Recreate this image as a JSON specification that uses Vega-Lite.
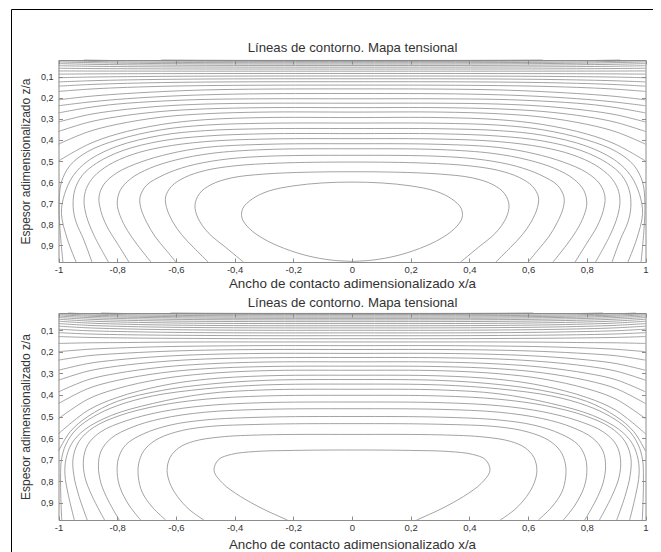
{
"$schema":"https://vega.github.io/schema/vega-lite/v6.json",
"autosize":"none",
"width":642,"height":547,
"padding":{"left":11,"top":9,"right":0,"bottom":0},
"background":"white",
"config":{
"font":"Liberation Sans",
"view":{"stroke":"#000000","strokeWidth":1},
"axis":{"grid":false,"domain":true,"domainColor":"#8c8c8c","tickColor":"#8c8c8c","tickSize":-4,"labelFont":"Liberation Sans","labelFontSize":9.5,"labelColor":"#333333","titleFont":"Liberation Sans","titleFontSize":12,"titleFontWeight":"normal","titleColor":"#333333","labelFlush":false,"labelOverlap":false}
},
"datasets":{
"A":[
{"c":1,"o":1,"x":0,"z":0.976},{"c":1,"o":2,"x":-0.07,"z":0.97},{"c":1,"o":3,"x":-0.15,"z":0.95},{"c":1,"o":4,"x":-0.23,"z":0.915},{"c":1,"o":5,"x":-0.3,"z":0.87},{"c":1,"o":6,"x":-0.35,"z":0.82},{"c":1,"o":7,"x":-0.375,"z":0.77},{"c":1,"o":8,"x":-0.372,"z":0.725},{"c":1,"o":9,"x":-0.34,"z":0.68},{"c":1,"o":10,"x":-0.285,"z":0.643},{"c":1,"o":11,"x":-0.2,"z":0.618},{"c":1,"o":12,"x":-0.1,"z":0.604},{"c":1,"o":13,"x":0,"z":0.6},{"c":1,"o":14,"x":0.1,"z":0.604},{"c":1,"o":15,"x":0.2,"z":0.618},{"c":1,"o":16,"x":0.285,"z":0.643},{"c":1,"o":17,"x":0.34,"z":0.68},{"c":1,"o":18,"x":0.372,"z":0.725},{"c":1,"o":19,"x":0.375,"z":0.77},{"c":1,"o":20,"x":0.35,"z":0.82},{"c":1,"o":21,"x":0.3,"z":0.87},{"c":1,"o":22,"x":0.23,"z":0.915},{"c":1,"o":23,"x":0.15,"z":0.95},{"c":1,"o":24,"x":0.07,"z":0.97},{"c":1,"o":25,"x":0,"z":0.976},
{"c":2,"o":1,"x":-0.37,"z":0.979},{"c":2,"o":2,"x":-0.43,"z":0.91},{"c":2,"o":3,"x":-0.49,"z":0.84},{"c":2,"o":4,"x":-0.525,"z":0.77},{"c":2,"o":5,"x":-0.535,"z":0.71},{"c":2,"o":6,"x":-0.52,"z":0.655},{"c":2,"o":7,"x":-0.48,"z":0.612},{"c":2,"o":8,"x":-0.41,"z":0.58},{"c":2,"o":9,"x":-0.3,"z":0.562},{"c":2,"o":10,"x":-0.15,"z":0.553},{"c":2,"o":11,"x":0,"z":0.551},{"c":2,"o":12,"x":0.15,"z":0.553},{"c":2,"o":13,"x":0.3,"z":0.562},{"c":2,"o":14,"x":0.41,"z":0.58},{"c":2,"o":15,"x":0.48,"z":0.612},{"c":2,"o":16,"x":0.52,"z":0.655},{"c":2,"o":17,"x":0.535,"z":0.71},{"c":2,"o":18,"x":0.525,"z":0.77},{"c":2,"o":19,"x":0.49,"z":0.84},{"c":2,"o":20,"x":0.43,"z":0.91},{"c":2,"o":21,"x":0.37,"z":0.979},
{"c":3,"o":1,"x":-0.49,"z":0.979},{"c":3,"o":2,"x":-0.54,"z":0.91},{"c":3,"o":3,"x":-0.58,"z":0.85},{"c":3,"o":4,"x":-0.61,"z":0.79},{"c":3,"o":5,"x":-0.632,"z":0.72},{"c":3,"o":6,"x":-0.635,"z":0.67},{"c":3,"o":7,"x":-0.615,"z":0.62},{"c":3,"o":8,"x":-0.57,"z":0.578},{"c":3,"o":9,"x":-0.5,"z":0.545},{"c":3,"o":10,"x":-0.4,"z":0.523},{"c":3,"o":11,"x":-0.25,"z":0.51},{"c":3,"o":12,"x":0,"z":0.505},{"c":3,"o":13,"x":0.25,"z":0.51},{"c":3,"o":14,"x":0.4,"z":0.523},{"c":3,"o":15,"x":0.5,"z":0.545},{"c":3,"o":16,"x":0.57,"z":0.578},{"c":3,"o":17,"x":0.615,"z":0.62},{"c":3,"o":18,"x":0.635,"z":0.67},{"c":3,"o":19,"x":0.632,"z":0.72},{"c":3,"o":20,"x":0.61,"z":0.79},{"c":3,"o":21,"x":0.58,"z":0.85},{"c":3,"o":22,"x":0.54,"z":0.91},{"c":3,"o":23,"x":0.49,"z":0.979},
{"c":4,"o":1,"x":-0.6,"z":0.979},{"c":4,"o":2,"x":-0.635,"z":0.92},{"c":4,"o":3,"x":-0.67,"z":0.86},{"c":4,"o":4,"x":-0.7,"z":0.79},{"c":4,"o":5,"x":-0.72,"z":0.72},{"c":4,"o":6,"x":-0.722,"z":0.67},{"c":4,"o":7,"x":-0.7,"z":0.615},{"c":4,"o":8,"x":-0.64,"z":0.565},{"c":4,"o":9,"x":-0.56,"z":0.525},{"c":4,"o":10,"x":-0.45,"z":0.495},{"c":4,"o":11,"x":-0.3,"z":0.478},{"c":4,"o":12,"x":0,"z":0.473},{"c":4,"o":13,"x":0.3,"z":0.478},{"c":4,"o":14,"x":0.45,"z":0.495},{"c":4,"o":15,"x":0.56,"z":0.525},{"c":4,"o":16,"x":0.64,"z":0.565},{"c":4,"o":17,"x":0.7,"z":0.615},{"c":4,"o":18,"x":0.722,"z":0.67},{"c":4,"o":19,"x":0.72,"z":0.72},{"c":4,"o":20,"x":0.7,"z":0.79},{"c":4,"o":21,"x":0.67,"z":0.86},{"c":4,"o":22,"x":0.635,"z":0.92},{"c":4,"o":23,"x":0.6,"z":0.979},
{"c":5,"o":1,"x":-0.685,"z":0.979},{"c":5,"o":2,"x":-0.73,"z":0.9},{"c":5,"o":3,"x":-0.765,"z":0.83},{"c":5,"o":4,"x":-0.79,"z":0.76},{"c":5,"o":5,"x":-0.8,"z":0.7},{"c":5,"o":6,"x":-0.79,"z":0.64},{"c":5,"o":7,"x":-0.755,"z":0.585},{"c":5,"o":8,"x":-0.69,"z":0.535},{"c":5,"o":9,"x":-0.6,"z":0.495},{"c":5,"o":10,"x":-0.48,"z":0.464},{"c":5,"o":11,"x":-0.3,"z":0.446},{"c":5,"o":12,"x":0,"z":0.442},{"c":5,"o":13,"x":0.3,"z":0.446},{"c":5,"o":14,"x":0.48,"z":0.464},{"c":5,"o":15,"x":0.6,"z":0.495},{"c":5,"o":16,"x":0.69,"z":0.535},{"c":5,"o":17,"x":0.755,"z":0.585},{"c":5,"o":18,"x":0.79,"z":0.64},{"c":5,"o":19,"x":0.8,"z":0.7},{"c":5,"o":20,"x":0.79,"z":0.76},{"c":5,"o":21,"x":0.765,"z":0.83},{"c":5,"o":22,"x":0.73,"z":0.9},{"c":5,"o":23,"x":0.685,"z":0.979},
{"c":6,"o":1,"x":-0.76,"z":0.979},{"c":6,"o":2,"x":-0.8,"z":0.89},{"c":6,"o":3,"x":-0.835,"z":0.81},{"c":6,"o":4,"x":-0.855,"z":0.74},{"c":6,"o":5,"x":-0.862,"z":0.67},{"c":6,"o":6,"x":-0.845,"z":0.61},{"c":6,"o":7,"x":-0.8,"z":0.555},{"c":6,"o":8,"x":-0.72,"z":0.505},{"c":6,"o":9,"x":-0.62,"z":0.465},{"c":6,"o":10,"x":-0.5,"z":0.436},{"c":6,"o":11,"x":-0.3,"z":0.421},{"c":6,"o":12,"x":0,"z":0.418},{"c":6,"o":13,"x":0.3,"z":0.421},{"c":6,"o":14,"x":0.5,"z":0.436},{"c":6,"o":15,"x":0.62,"z":0.465},{"c":6,"o":16,"x":0.72,"z":0.505},{"c":6,"o":17,"x":0.8,"z":0.555},{"c":6,"o":18,"x":0.845,"z":0.61},{"c":6,"o":19,"x":0.862,"z":0.67},{"c":6,"o":20,"x":0.855,"z":0.74},{"c":6,"o":21,"x":0.835,"z":0.81},{"c":6,"o":22,"x":0.8,"z":0.89},{"c":6,"o":23,"x":0.76,"z":0.979},
{"c":7,"o":1,"x":-0.83,"z":0.979},{"c":7,"o":2,"x":-0.88,"z":0.85},{"c":7,"o":3,"x":-0.905,"z":0.76},{"c":7,"o":4,"x":-0.913,"z":0.69},{"c":7,"o":5,"x":-0.905,"z":0.63},{"c":7,"o":6,"x":-0.88,"z":0.575},{"c":7,"o":7,"x":-0.83,"z":0.52},{"c":7,"o":8,"x":-0.75,"z":0.47},{"c":7,"o":9,"x":-0.65,"z":0.435},{"c":7,"o":10,"x":-0.5,"z":0.408},{"c":7,"o":11,"x":-0.3,"z":0.396},{"c":7,"o":12,"x":0,"z":0.394},{"c":7,"o":13,"x":0.3,"z":0.396},{"c":7,"o":14,"x":0.5,"z":0.408},{"c":7,"o":15,"x":0.65,"z":0.435},{"c":7,"o":16,"x":0.75,"z":0.47},{"c":7,"o":17,"x":0.83,"z":0.52},{"c":7,"o":18,"x":0.88,"z":0.575},{"c":7,"o":19,"x":0.905,"z":0.63},{"c":7,"o":20,"x":0.913,"z":0.69},{"c":7,"o":21,"x":0.905,"z":0.76},{"c":7,"o":22,"x":0.88,"z":0.85},{"c":7,"o":23,"x":0.83,"z":0.979},
{"c":8,"o":1,"x":-0.886,"z":0.979},{"c":8,"o":2,"x":-0.915,"z":0.87},{"c":8,"o":3,"x":-0.94,"z":0.79},{"c":8,"o":4,"x":-0.95,"z":0.72},{"c":8,"o":5,"x":-0.945,"z":0.64},{"c":8,"o":6,"x":-0.92,"z":0.57},{"c":8,"o":7,"x":-0.87,"z":0.51},{"c":8,"o":8,"x":-0.78,"z":0.45},{"c":8,"o":9,"x":-0.65,"z":0.405},{"c":8,"o":10,"x":-0.5,"z":0.382},{"c":8,"o":11,"x":-0.3,"z":0.371},{"c":8,"o":12,"x":0,"z":0.37},{"c":8,"o":13,"x":0.3,"z":0.371},{"c":8,"o":14,"x":0.5,"z":0.382},{"c":8,"o":15,"x":0.65,"z":0.405},{"c":8,"o":16,"x":0.78,"z":0.45},{"c":8,"o":17,"x":0.87,"z":0.51},{"c":8,"o":18,"x":0.92,"z":0.57},{"c":8,"o":19,"x":0.945,"z":0.64},{"c":8,"o":20,"x":0.95,"z":0.72},{"c":8,"o":21,"x":0.94,"z":0.79},{"c":8,"o":22,"x":0.915,"z":0.87},{"c":8,"o":23,"x":0.886,"z":0.979},
{"c":9,"o":1,"x":-0.94,"z":0.979},{"c":9,"o":2,"x":-0.97,"z":0.87},{"c":9,"o":3,"x":-0.99,"z":0.75},{"c":9,"o":4,"x":-0.98,"z":0.66},{"c":9,"o":5,"x":-0.95,"z":0.57},{"c":9,"o":6,"x":-0.9,"z":0.5},{"c":9,"o":7,"x":-0.8,"z":0.43},{"c":9,"o":8,"x":-0.65,"z":0.378},{"c":9,"o":9,"x":-0.5,"z":0.356},{"c":9,"o":10,"x":-0.3,"z":0.347},{"c":9,"o":11,"x":0,"z":0.346},{"c":9,"o":12,"x":0.3,"z":0.347},{"c":9,"o":13,"x":0.5,"z":0.356},{"c":9,"o":14,"x":0.65,"z":0.378},{"c":9,"o":15,"x":0.8,"z":0.43},{"c":9,"o":16,"x":0.9,"z":0.5},{"c":9,"o":17,"x":0.95,"z":0.57},{"c":9,"o":18,"x":0.98,"z":0.66},{"c":9,"o":19,"x":0.99,"z":0.75},{"c":9,"o":20,"x":0.97,"z":0.87},{"c":9,"o":21,"x":0.94,"z":0.979},
{"c":10,"o":1,"x":-0.985,"z":0.979},{"c":10,"o":2,"x":-0.995,"z":0.82},{"c":10,"o":3,"x":-0.998,"z":0.7},{"c":10,"o":4,"x":-0.99,"z":0.6},{"c":10,"o":5,"x":-0.96,"z":0.52},{"c":10,"o":6,"x":-0.9,"z":0.455},{"c":10,"o":7,"x":-0.8,"z":0.4},{"c":10,"o":8,"x":-0.65,"z":0.352},{"c":10,"o":9,"x":-0.5,"z":0.33},{"c":10,"o":10,"x":-0.3,"z":0.321},{"c":10,"o":11,"x":0,"z":0.32},{"c":10,"o":12,"x":0.3,"z":0.321},{"c":10,"o":13,"x":0.5,"z":0.33},{"c":10,"o":14,"x":0.65,"z":0.352},{"c":10,"o":15,"x":0.8,"z":0.4},{"c":10,"o":16,"x":0.9,"z":0.455},{"c":10,"o":17,"x":0.96,"z":0.52},{"c":10,"o":18,"x":0.99,"z":0.6},{"c":10,"o":19,"x":0.998,"z":0.7},{"c":10,"o":20,"x":0.995,"z":0.82},{"c":10,"o":21,"x":0.985,"z":0.979},
{"c":11,"o":1,"x":-1,"z":0.5},{"c":11,"o":2,"x":-0.9,"z":0.422},{"c":11,"o":3,"x":-0.8,"z":0.372},{"c":11,"o":4,"x":-0.65,"z":0.327},{"c":11,"o":5,"x":-0.5,"z":0.304},{"c":11,"o":6,"x":-0.3,"z":0.294},{"c":11,"o":7,"x":0,"z":0.294},{"c":11,"o":8,"x":0.3,"z":0.294},{"c":11,"o":9,"x":0.5,"z":0.304},{"c":11,"o":10,"x":0.65,"z":0.327},{"c":11,"o":11,"x":0.8,"z":0.372},{"c":11,"o":12,"x":0.9,"z":0.422},{"c":11,"o":13,"x":1,"z":0.5},
{"c":12,"o":1,"x":-1,"z":0.42},{"c":12,"o":2,"x":-0.9,"z":0.362},{"c":12,"o":3,"x":-0.8,"z":0.326},{"c":12,"o":4,"x":-0.65,"z":0.292},{"c":12,"o":5,"x":-0.5,"z":0.276},{"c":12,"o":6,"x":-0.3,"z":0.268},{"c":12,"o":7,"x":0,"z":0.268},{"c":12,"o":8,"x":0.3,"z":0.268},{"c":12,"o":9,"x":0.5,"z":0.276},{"c":12,"o":10,"x":0.65,"z":0.292},{"c":12,"o":11,"x":0.8,"z":0.326},{"c":12,"o":12,"x":0.9,"z":0.362},{"c":12,"o":13,"x":1,"z":0.42},
{"c":13,"o":1,"x":-1,"z":0.36},{"c":13,"o":2,"x":-0.9,"z":0.317},{"c":13,"o":3,"x":-0.8,"z":0.29},{"c":13,"o":4,"x":-0.65,"z":0.265},{"c":13,"o":5,"x":-0.5,"z":0.253},{"c":13,"o":6,"x":-0.3,"z":0.247},{"c":13,"o":7,"x":0,"z":0.247},{"c":13,"o":8,"x":0.3,"z":0.247},{"c":13,"o":9,"x":0.5,"z":0.253},{"c":13,"o":10,"x":0.65,"z":0.265},{"c":13,"o":11,"x":0.8,"z":0.29},{"c":13,"o":12,"x":0.9,"z":0.317},{"c":13,"o":13,"x":1,"z":0.36},
{"c":14,"o":1,"x":-1,"z":0.315},{"c":14,"o":2,"x":-0.9,"z":0.281},{"c":14,"o":3,"x":-0.8,"z":0.26},{"c":14,"o":4,"x":-0.65,"z":0.24},{"c":14,"o":5,"x":-0.5,"z":0.23},{"c":14,"o":6,"x":-0.3,"z":0.226},{"c":14,"o":7,"x":0,"z":0.226},{"c":14,"o":8,"x":0.3,"z":0.226},{"c":14,"o":9,"x":0.5,"z":0.23},{"c":14,"o":10,"x":0.65,"z":0.24},{"c":14,"o":11,"x":0.8,"z":0.26},{"c":14,"o":12,"x":0.9,"z":0.281},{"c":14,"o":13,"x":1,"z":0.315},
{"c":15,"o":1,"x":-1,"z":0.272},{"c":15,"o":2,"x":-0.9,"z":0.247},{"c":15,"o":3,"x":-0.8,"z":0.23},{"c":15,"o":4,"x":-0.65,"z":0.216},{"c":15,"o":5,"x":-0.5,"z":0.208},{"c":15,"o":6,"x":-0.3,"z":0.205},{"c":15,"o":7,"x":0,"z":0.205},{"c":15,"o":8,"x":0.3,"z":0.205},{"c":15,"o":9,"x":0.5,"z":0.208},{"c":15,"o":10,"x":0.65,"z":0.216},{"c":15,"o":11,"x":0.8,"z":0.23},{"c":15,"o":12,"x":0.9,"z":0.247},{"c":15,"o":13,"x":1,"z":0.272},
{"c":16,"o":1,"x":-1,"z":0.238},{"c":16,"o":2,"x":-0.9,"z":0.221},{"c":16,"o":3,"x":-0.8,"z":0.208},{"c":16,"o":4,"x":-0.65,"z":0.1945},{"c":16,"o":5,"x":-0.5,"z":0.186},{"c":16,"o":6,"x":-0.3,"z":0.181},{"c":16,"o":7,"x":0,"z":0.18},{"c":16,"o":8,"x":0.3,"z":0.181},{"c":16,"o":9,"x":0.5,"z":0.186},{"c":16,"o":10,"x":0.65,"z":0.1945},{"c":16,"o":11,"x":0.8,"z":0.208},{"c":16,"o":12,"x":0.9,"z":0.221},{"c":16,"o":13,"x":1,"z":0.238},
{"c":17,"o":1,"x":-1,"z":0.21},{"c":17,"o":2,"x":-0.9,"z":0.194},{"c":17,"o":3,"x":-0.8,"z":0.183},{"c":17,"o":4,"x":-0.65,"z":0.171},{"c":17,"o":5,"x":-0.5,"z":0.163},{"c":17,"o":6,"x":-0.3,"z":0.159},{"c":17,"o":7,"x":0,"z":0.158},{"c":17,"o":8,"x":0.3,"z":0.159},{"c":17,"o":9,"x":0.5,"z":0.163},{"c":17,"o":10,"x":0.65,"z":0.171},{"c":17,"o":11,"x":0.8,"z":0.183},{"c":17,"o":12,"x":0.9,"z":0.194},{"c":17,"o":13,"x":1,"z":0.21},
{"c":18,"o":1,"x":-1,"z":0.17},{"c":18,"o":2,"x":-0.9,"z":0.1595},{"c":18,"o":3,"x":-0.8,"z":0.1526},{"c":18,"o":4,"x":-0.65,"z":0.146},{"c":18,"o":5,"x":-0.5,"z":0.1424},{"c":18,"o":6,"x":-0.3,"z":0.1405},{"c":18,"o":7,"x":0,"z":0.14},{"c":18,"o":8,"x":0.3,"z":0.1405},{"c":18,"o":9,"x":0.5,"z":0.1424},{"c":18,"o":10,"x":0.65,"z":0.146},{"c":18,"o":11,"x":0.8,"z":0.1526},{"c":18,"o":12,"x":0.9,"z":0.1595},{"c":18,"o":13,"x":1,"z":0.17},
{"c":19,"o":1,"x":-1,"z":0.145},{"c":19,"o":2,"x":-0.9,"z":0.1377},{"c":19,"o":3,"x":-0.8,"z":0.1328},{"c":19,"o":4,"x":-0.65,"z":0.1282},{"c":19,"o":5,"x":-0.5,"z":0.1257},{"c":19,"o":6,"x":-0.3,"z":0.1243},{"c":19,"o":7,"x":0,"z":0.124},{"c":19,"o":8,"x":0.3,"z":0.1243},{"c":19,"o":9,"x":0.5,"z":0.1257},{"c":19,"o":10,"x":0.65,"z":0.1282},{"c":19,"o":11,"x":0.8,"z":0.1328},{"c":19,"o":12,"x":0.9,"z":0.1377},{"c":19,"o":13,"x":1,"z":0.145},
{"c":20,"o":1,"x":-1,"z":0.125},{"c":20,"o":2,"x":-0.9,"z":0.1198},{"c":20,"o":3,"x":-0.8,"z":0.1163},{"c":20,"o":4,"x":-0.65,"z":0.113},{"c":20,"o":5,"x":-0.5,"z":0.1112},{"c":20,"o":6,"x":-0.3,"z":0.1102},{"c":20,"o":7,"x":0,"z":0.11},{"c":20,"o":8,"x":0.3,"z":0.1102},{"c":20,"o":9,"x":0.5,"z":0.1112},{"c":20,"o":10,"x":0.65,"z":0.113},{"c":20,"o":11,"x":0.8,"z":0.1163},{"c":20,"o":12,"x":0.9,"z":0.1198},{"c":20,"o":13,"x":1,"z":0.125},
{"c":21,"o":1,"x":-1,"z":0.105},{"c":21,"o":2,"x":-0.9,"z":0.1022},{"c":21,"o":3,"x":-0.8,"z":0.1004},{"c":21,"o":4,"x":-0.65,"z":0.0986},{"c":21,"o":5,"x":-0.5,"z":0.0976},{"c":21,"o":6,"x":-0.3,"z":0.0971},{"c":21,"o":7,"x":0,"z":0.097},{"c":21,"o":8,"x":0.3,"z":0.0971},{"c":21,"o":9,"x":0.5,"z":0.0976},{"c":21,"o":10,"x":0.65,"z":0.0986},{"c":21,"o":11,"x":0.8,"z":0.1004},{"c":21,"o":12,"x":0.9,"z":0.1022},{"c":21,"o":13,"x":1,"z":0.105},
{"c":22,"o":1,"x":-1,"z":0.088},{"c":22,"o":2,"x":-0.9,"z":0.087},{"c":22,"o":3,"x":-0.8,"z":0.0863},{"c":22,"o":4,"x":-0.65,"z":0.0856},{"c":22,"o":5,"x":-0.5,"z":0.0852},{"c":22,"o":6,"x":-0.3,"z":0.085},{"c":22,"o":7,"x":0,"z":0.085},{"c":22,"o":8,"x":0.3,"z":0.085},{"c":22,"o":9,"x":0.5,"z":0.0852},{"c":22,"o":10,"x":0.65,"z":0.0856},{"c":22,"o":11,"x":0.8,"z":0.0863},{"c":22,"o":12,"x":0.9,"z":0.087},{"c":22,"o":13,"x":1,"z":0.088},
{"c":23,"o":1,"x":-1,"z":0.073},{"c":23,"o":2,"x":-0.9,"z":0.0734},{"c":23,"o":3,"x":-0.8,"z":0.0736},{"c":23,"o":4,"x":-0.65,"z":0.0738},{"c":23,"o":5,"x":-0.5,"z":0.0739},{"c":23,"o":6,"x":-0.3,"z":0.074},{"c":23,"o":7,"x":0,"z":0.074},{"c":23,"o":8,"x":0.3,"z":0.074},{"c":23,"o":9,"x":0.5,"z":0.0739},{"c":23,"o":10,"x":0.65,"z":0.0738},{"c":23,"o":11,"x":0.8,"z":0.0736},{"c":23,"o":12,"x":0.9,"z":0.0734},{"c":23,"o":13,"x":1,"z":0.073},
{"c":24,"o":1,"x":-1,"z":0.06},{"c":24,"o":2,"x":-0.9,"z":0.0614},{"c":24,"o":3,"x":-0.8,"z":0.0623},{"c":24,"o":4,"x":-0.65,"z":0.0632},{"c":24,"o":5,"x":-0.5,"z":0.0637},{"c":24,"o":6,"x":-0.3,"z":0.0639},{"c":24,"o":7,"x":0,"z":0.064},{"c":24,"o":8,"x":0.3,"z":0.0639},{"c":24,"o":9,"x":0.5,"z":0.0637},{"c":24,"o":10,"x":0.65,"z":0.0632},{"c":24,"o":11,"x":0.8,"z":0.0623},{"c":24,"o":12,"x":0.9,"z":0.0614},{"c":24,"o":13,"x":1,"z":0.06},
{"c":25,"o":1,"x":-1,"z":0.048},{"c":25,"o":2,"x":-0.9,"z":0.0505},{"c":25,"o":3,"x":-0.8,"z":0.0521},{"c":25,"o":4,"x":-0.65,"z":0.0536},{"c":25,"o":5,"x":-0.5,"z":0.0544},{"c":25,"o":6,"x":-0.3,"z":0.0549},{"c":25,"o":7,"x":0,"z":0.055},{"c":25,"o":8,"x":0.3,"z":0.0549},{"c":25,"o":9,"x":0.5,"z":0.0544},{"c":25,"o":10,"x":0.65,"z":0.0536},{"c":25,"o":11,"x":0.8,"z":0.0521},{"c":25,"o":12,"x":0.9,"z":0.0505},{"c":25,"o":13,"x":1,"z":0.048},
{"c":26,"o":1,"x":-1,"z":0.038},{"c":26,"o":2,"x":-0.9,"z":0.0412},{"c":26,"o":3,"x":-0.8,"z":0.0432},{"c":26,"o":4,"x":-0.65,"z":0.0452},{"c":26,"o":5,"x":-0.5,"z":0.0463},{"c":26,"o":6,"x":-0.3,"z":0.0469},{"c":26,"o":7,"x":0,"z":0.047},{"c":26,"o":8,"x":0.3,"z":0.0469},{"c":26,"o":9,"x":0.5,"z":0.0463},{"c":26,"o":10,"x":0.65,"z":0.0452},{"c":26,"o":11,"x":0.8,"z":0.0432},{"c":26,"o":12,"x":0.9,"z":0.0412},{"c":26,"o":13,"x":1,"z":0.038},
{"c":27,"o":1,"x":-1,"z":0.03},{"c":27,"o":2,"x":-0.9,"z":0.0335},{"c":27,"o":3,"x":-0.8,"z":0.0358},{"c":27,"o":4,"x":-0.65,"z":0.038},{"c":27,"o":5,"x":-0.5,"z":0.0392},{"c":27,"o":6,"x":-0.3,"z":0.0399},{"c":27,"o":7,"x":0,"z":0.04},{"c":27,"o":8,"x":0.3,"z":0.0399},{"c":27,"o":9,"x":0.5,"z":0.0392},{"c":27,"o":10,"x":0.65,"z":0.038},{"c":27,"o":11,"x":0.8,"z":0.0358},{"c":27,"o":12,"x":0.9,"z":0.0335},{"c":27,"o":13,"x":1,"z":0.03},
{"c":28,"o":1,"x":-1,"z":0.024},{"c":28,"o":2,"x":-0.9,"z":0.0275},{"c":28,"o":3,"x":-0.8,"z":0.0298},{"c":28,"o":4,"x":-0.65,"z":0.032},{"c":28,"o":5,"x":-0.5,"z":0.0332},{"c":28,"o":6,"x":-0.3,"z":0.0339},{"c":28,"o":7,"x":0,"z":0.034},{"c":28,"o":8,"x":0.3,"z":0.0339},{"c":28,"o":9,"x":0.5,"z":0.0332},{"c":28,"o":10,"x":0.65,"z":0.032},{"c":28,"o":11,"x":0.8,"z":0.0298},{"c":28,"o":12,"x":0.9,"z":0.0275},{"c":28,"o":13,"x":1,"z":0.024},
{"c":29,"o":1,"x":-0.914,"z":0.021},{"c":29,"o":3,"x":-0.8,"z":0.0238},{"c":29,"o":4,"x":-0.65,"z":0.026},{"c":29,"o":5,"x":-0.5,"z":0.0272},{"c":29,"o":6,"x":-0.3,"z":0.0279},{"c":29,"o":7,"x":0,"z":0.028},{"c":29,"o":8,"x":0.3,"z":0.0279},{"c":29,"o":9,"x":0.5,"z":0.0272},{"c":29,"o":10,"x":0.65,"z":0.026},{"c":29,"o":11,"x":0.8,"z":0.0238},{"c":29,"o":13,"x":0.914,"z":0.021},
{"c":30,"o":4,"x":-0.65,"z":0.021},{"c":30,"o":5,"x":-0.5,"z":0.0222},{"c":30,"o":6,"x":-0.3,"z":0.0229},{"c":30,"o":7,"x":0,"z":0.023},{"c":30,"o":8,"x":0.3,"z":0.0229},{"c":30,"o":9,"x":0.5,"z":0.0222},{"c":30,"o":10,"x":0.65,"z":0.021}
],
"B":[
{"c":1,"o":1,"x":-0.22,"z":0.979},{"c":1,"o":2,"x":-0.3,"z":0.93},{"c":1,"o":3,"x":-0.38,"z":0.87},{"c":1,"o":4,"x":-0.44,"z":0.81},{"c":1,"o":5,"x":-0.47,"z":0.75},{"c":1,"o":6,"x":-0.455,"z":0.7},{"c":1,"o":7,"x":-0.41,"z":0.675},{"c":1,"o":8,"x":-0.33,"z":0.662},{"c":1,"o":9,"x":-0.2,"z":0.657},{"c":1,"o":10,"x":0,"z":0.655},{"c":1,"o":11,"x":0.2,"z":0.657},{"c":1,"o":12,"x":0.33,"z":0.662},{"c":1,"o":13,"x":0.41,"z":0.675},{"c":1,"o":14,"x":0.455,"z":0.7},{"c":1,"o":15,"x":0.47,"z":0.75},{"c":1,"o":16,"x":0.44,"z":0.81},{"c":1,"o":17,"x":0.38,"z":0.87},{"c":1,"o":18,"x":0.3,"z":0.93},{"c":1,"o":19,"x":0.22,"z":0.979},
{"c":2,"o":1,"x":-0.505,"z":0.979},{"c":2,"o":2,"x":-0.555,"z":0.93},{"c":2,"o":3,"x":-0.595,"z":0.87},{"c":2,"o":4,"x":-0.62,"z":0.81},{"c":2,"o":5,"x":-0.63,"z":0.75},{"c":2,"o":6,"x":-0.62,"z":0.69},{"c":2,"o":7,"x":-0.59,"z":0.645},{"c":2,"o":8,"x":-0.54,"z":0.615},{"c":2,"o":9,"x":-0.45,"z":0.595},{"c":2,"o":10,"x":-0.3,"z":0.585},{"c":2,"o":11,"x":0,"z":0.583},{"c":2,"o":12,"x":0.3,"z":0.585},{"c":2,"o":13,"x":0.45,"z":0.595},{"c":2,"o":14,"x":0.54,"z":0.615},{"c":2,"o":15,"x":0.59,"z":0.645},{"c":2,"o":16,"x":0.62,"z":0.69},{"c":2,"o":17,"x":0.63,"z":0.75},{"c":2,"o":18,"x":0.62,"z":0.81},{"c":2,"o":19,"x":0.595,"z":0.87},{"c":2,"o":20,"x":0.555,"z":0.93},{"c":2,"o":21,"x":0.505,"z":0.979},
{"c":3,"o":1,"x":-0.635,"z":0.979},{"c":3,"o":2,"x":-0.68,"z":0.92},{"c":3,"o":3,"x":-0.715,"z":0.85},{"c":3,"o":4,"x":-0.728,"z":0.78},{"c":3,"o":5,"x":-0.727,"z":0.72},{"c":3,"o":6,"x":-0.71,"z":0.66},{"c":3,"o":7,"x":-0.67,"z":0.61},{"c":3,"o":8,"x":-0.6,"z":0.572},{"c":3,"o":9,"x":-0.5,"z":0.548},{"c":3,"o":10,"x":-0.3,"z":0.536},{"c":3,"o":11,"x":0,"z":0.533},{"c":3,"o":12,"x":0.3,"z":0.536},{"c":3,"o":13,"x":0.5,"z":0.548},{"c":3,"o":14,"x":0.6,"z":0.572},{"c":3,"o":15,"x":0.67,"z":0.61},{"c":3,"o":16,"x":0.71,"z":0.66},{"c":3,"o":17,"x":0.727,"z":0.72},{"c":3,"o":18,"x":0.728,"z":0.78},{"c":3,"o":19,"x":0.715,"z":0.85},{"c":3,"o":20,"x":0.68,"z":0.92},{"c":3,"o":21,"x":0.635,"z":0.979},
{"c":4,"o":1,"x":-0.72,"z":0.979},{"c":4,"o":2,"x":-0.76,"z":0.91},{"c":4,"o":3,"x":-0.79,"z":0.83},{"c":4,"o":4,"x":-0.8,"z":0.76},{"c":4,"o":5,"x":-0.795,"z":0.69},{"c":4,"o":6,"x":-0.77,"z":0.63},{"c":4,"o":7,"x":-0.71,"z":0.58},{"c":4,"o":8,"x":-0.62,"z":0.54},{"c":4,"o":9,"x":-0.5,"z":0.516},{"c":4,"o":10,"x":-0.3,"z":0.503},{"c":4,"o":11,"x":0,"z":0.5},{"c":4,"o":12,"x":0.3,"z":0.503},{"c":4,"o":13,"x":0.5,"z":0.516},{"c":4,"o":14,"x":0.62,"z":0.54},{"c":4,"o":15,"x":0.71,"z":0.58},{"c":4,"o":16,"x":0.77,"z":0.63},{"c":4,"o":17,"x":0.795,"z":0.69},{"c":4,"o":18,"x":0.8,"z":0.76},{"c":4,"o":19,"x":0.79,"z":0.83},{"c":4,"o":20,"x":0.76,"z":0.91},{"c":4,"o":21,"x":0.72,"z":0.979},
{"c":5,"o":1,"x":-0.793,"z":0.979},{"c":5,"o":2,"x":-0.83,"z":0.89},{"c":5,"o":3,"x":-0.855,"z":0.81},{"c":5,"o":4,"x":-0.864,"z":0.73},{"c":5,"o":5,"x":-0.855,"z":0.66},{"c":5,"o":6,"x":-0.82,"z":0.6},{"c":5,"o":7,"x":-0.75,"z":0.55},{"c":5,"o":8,"x":-0.65,"z":0.51},{"c":5,"o":9,"x":-0.5,"z":0.48},{"c":5,"o":10,"x":-0.3,"z":0.467},{"c":5,"o":11,"x":0,"z":0.464},{"c":5,"o":12,"x":0.3,"z":0.467},{"c":5,"o":13,"x":0.5,"z":0.48},{"c":5,"o":14,"x":0.65,"z":0.51},{"c":5,"o":15,"x":0.75,"z":0.55},{"c":5,"o":16,"x":0.82,"z":0.6},{"c":5,"o":17,"x":0.855,"z":0.66},{"c":5,"o":18,"x":0.864,"z":0.73},{"c":5,"o":19,"x":0.855,"z":0.81},{"c":5,"o":20,"x":0.83,"z":0.89},{"c":5,"o":21,"x":0.793,"z":0.979},
{"c":6,"o":1,"x":-0.843,"z":0.979},{"c":6,"o":2,"x":-0.885,"z":0.87},{"c":6,"o":3,"x":-0.91,"z":0.78},{"c":6,"o":4,"x":-0.915,"z":0.7},{"c":6,"o":5,"x":-0.9,"z":0.63},{"c":6,"o":6,"x":-0.855,"z":0.57},{"c":6,"o":7,"x":-0.77,"z":0.52},{"c":6,"o":8,"x":-0.65,"z":0.478},{"c":6,"o":9,"x":-0.5,"z":0.45},{"c":6,"o":10,"x":-0.3,"z":0.436},{"c":6,"o":11,"x":0,"z":0.433},{"c":6,"o":12,"x":0.3,"z":0.436},{"c":6,"o":13,"x":0.5,"z":0.45},{"c":6,"o":14,"x":0.65,"z":0.478},{"c":6,"o":15,"x":0.77,"z":0.52},{"c":6,"o":16,"x":0.855,"z":0.57},{"c":6,"o":17,"x":0.9,"z":0.63},{"c":6,"o":18,"x":0.915,"z":0.7},{"c":6,"o":19,"x":0.91,"z":0.78},{"c":6,"o":20,"x":0.885,"z":0.87},{"c":6,"o":21,"x":0.843,"z":0.979},
{"c":7,"o":1,"x":-0.902,"z":0.979},{"c":7,"o":2,"x":-0.93,"z":0.87},{"c":7,"o":3,"x":-0.948,"z":0.77},{"c":7,"o":4,"x":-0.95,"z":0.69},{"c":7,"o":5,"x":-0.93,"z":0.615},{"c":7,"o":6,"x":-0.88,"z":0.55},{"c":7,"o":7,"x":-0.79,"z":0.495},{"c":7,"o":8,"x":-0.66,"z":0.45},{"c":7,"o":9,"x":-0.5,"z":0.42},{"c":7,"o":10,"x":-0.3,"z":0.405},{"c":7,"o":11,"x":0,"z":0.402},{"c":7,"o":12,"x":0.3,"z":0.405},{"c":7,"o":13,"x":0.5,"z":0.42},{"c":7,"o":14,"x":0.66,"z":0.45},{"c":7,"o":15,"x":0.79,"z":0.495},{"c":7,"o":16,"x":0.88,"z":0.55},{"c":7,"o":17,"x":0.93,"z":0.615},{"c":7,"o":18,"x":0.95,"z":0.69},{"c":7,"o":19,"x":0.948,"z":0.77},{"c":7,"o":20,"x":0.93,"z":0.87},{"c":7,"o":21,"x":0.902,"z":0.979},
{"c":8,"o":1,"x":-0.946,"z":0.979},{"c":8,"o":2,"x":-0.967,"z":0.86},{"c":8,"o":3,"x":-0.978,"z":0.77},{"c":8,"o":4,"x":-0.975,"z":0.7},{"c":8,"o":5,"x":-0.955,"z":0.625},{"c":8,"o":6,"x":-0.91,"z":0.56},{"c":8,"o":7,"x":-0.82,"z":0.495},{"c":8,"o":8,"x":-0.68,"z":0.44},{"c":8,"o":9,"x":-0.5,"z":0.395},{"c":8,"o":10,"x":-0.3,"z":0.377},{"c":8,"o":11,"x":0,"z":0.374},{"c":8,"o":12,"x":0.3,"z":0.377},{"c":8,"o":13,"x":0.5,"z":0.395},{"c":8,"o":14,"x":0.68,"z":0.44},{"c":8,"o":15,"x":0.82,"z":0.495},{"c":8,"o":16,"x":0.91,"z":0.56},{"c":8,"o":17,"x":0.955,"z":0.625},{"c":8,"o":18,"x":0.975,"z":0.7},{"c":8,"o":19,"x":0.978,"z":0.77},{"c":8,"o":20,"x":0.967,"z":0.86},{"c":8,"o":21,"x":0.946,"z":0.979},
{"c":9,"o":1,"x":-0.989,"z":0.979},{"c":9,"o":2,"x":-0.992,"z":0.88},{"c":9,"o":3,"x":-0.993,"z":0.78},{"c":9,"o":4,"x":-0.99,"z":0.7},{"c":9,"o":5,"x":-0.975,"z":0.63},{"c":9,"o":6,"x":-0.94,"z":0.56},{"c":9,"o":7,"x":-0.88,"z":0.5},{"c":9,"o":8,"x":-0.8,"z":0.45},{"c":9,"o":9,"x":-0.68,"z":0.405},{"c":9,"o":10,"x":-0.5,"z":0.372},{"c":9,"o":11,"x":-0.3,"z":0.354},{"c":9,"o":12,"x":0,"z":0.35},{"c":9,"o":13,"x":0.3,"z":0.354},{"c":9,"o":14,"x":0.5,"z":0.372},{"c":9,"o":15,"x":0.68,"z":0.405},{"c":9,"o":16,"x":0.8,"z":0.45},{"c":9,"o":17,"x":0.88,"z":0.5},{"c":9,"o":18,"x":0.94,"z":0.56},{"c":9,"o":19,"x":0.975,"z":0.63},{"c":9,"o":20,"x":0.99,"z":0.7},{"c":9,"o":21,"x":0.993,"z":0.78},{"c":9,"o":22,"x":0.992,"z":0.88},{"c":9,"o":23,"x":0.989,"z":0.979},
{"c":10,"o":1,"x":-1,"z":0.66},{"c":10,"o":2,"x":-0.96,"z":0.57},{"c":10,"o":3,"x":-0.9,"z":0.5},{"c":10,"o":4,"x":-0.8,"z":0.43},{"c":10,"o":5,"x":-0.65,"z":0.38},{"c":10,"o":6,"x":-0.5,"z":0.352},{"c":10,"o":7,"x":-0.3,"z":0.333},{"c":10,"o":8,"x":0,"z":0.329},{"c":10,"o":9,"x":0.3,"z":0.333},{"c":10,"o":10,"x":0.5,"z":0.352},{"c":10,"o":11,"x":0.65,"z":0.38},{"c":10,"o":12,"x":0.8,"z":0.43},{"c":10,"o":13,"x":0.9,"z":0.5},{"c":10,"o":14,"x":0.96,"z":0.57},{"c":10,"o":15,"x":1,"z":0.66},
{"c":11,"o":1,"x":-1,"z":0.58},{"c":11,"o":2,"x":-0.9,"z":0.472},{"c":11,"o":3,"x":-0.8,"z":0.412},{"c":11,"o":4,"x":-0.65,"z":0.358},{"c":11,"o":5,"x":-0.5,"z":0.328},{"c":11,"o":6,"x":-0.3,"z":0.312},{"c":11,"o":7,"x":0,"z":0.309},{"c":11,"o":8,"x":0.3,"z":0.312},{"c":11,"o":9,"x":0.5,"z":0.328},{"c":11,"o":10,"x":0.65,"z":0.358},{"c":11,"o":11,"x":0.8,"z":0.412},{"c":11,"o":12,"x":0.9,"z":0.472},{"c":11,"o":13,"x":1,"z":0.58},
{"c":12,"o":1,"x":-1,"z":0.51},{"c":12,"o":2,"x":-0.9,"z":0.42},{"c":12,"o":3,"x":-0.8,"z":0.371},{"c":12,"o":4,"x":-0.65,"z":0.326},{"c":12,"o":5,"x":-0.5,"z":0.302},{"c":12,"o":6,"x":-0.3,"z":0.288},{"c":12,"o":7,"x":0,"z":0.286},{"c":12,"o":8,"x":0.3,"z":0.288},{"c":12,"o":9,"x":0.5,"z":0.302},{"c":12,"o":10,"x":0.65,"z":0.326},{"c":12,"o":11,"x":0.8,"z":0.371},{"c":12,"o":12,"x":0.9,"z":0.42},{"c":12,"o":13,"x":1,"z":0.51},
{"c":13,"o":1,"x":-1,"z":0.44},{"c":13,"o":2,"x":-0.9,"z":0.371},{"c":13,"o":3,"x":-0.8,"z":0.333},{"c":13,"o":4,"x":-0.65,"z":0.298},{"c":13,"o":5,"x":-0.5,"z":0.279},{"c":13,"o":6,"x":-0.3,"z":0.269},{"c":13,"o":7,"x":0,"z":0.267},{"c":13,"o":8,"x":0.3,"z":0.269},{"c":13,"o":9,"x":0.5,"z":0.279},{"c":13,"o":10,"x":0.65,"z":0.298},{"c":13,"o":11,"x":0.8,"z":0.333},{"c":13,"o":12,"x":0.9,"z":0.371},{"c":13,"o":13,"x":1,"z":0.44},
{"c":14,"o":1,"x":-1,"z":0.386},{"c":14,"o":2,"x":-0.9,"z":0.33},{"c":14,"o":3,"x":-0.8,"z":0.3},{"c":14,"o":4,"x":-0.65,"z":0.272},{"c":14,"o":5,"x":-0.5,"z":0.257},{"c":14,"o":6,"x":-0.3,"z":0.248},{"c":14,"o":7,"x":0,"z":0.247},{"c":14,"o":8,"x":0.3,"z":0.248},{"c":14,"o":9,"x":0.5,"z":0.257},{"c":14,"o":10,"x":0.65,"z":0.272},{"c":14,"o":11,"x":0.8,"z":0.3},{"c":14,"o":12,"x":0.9,"z":0.33},{"c":14,"o":13,"x":1,"z":0.386},
{"c":15,"o":1,"x":-1,"z":0.332},{"c":15,"o":2,"x":-0.9,"z":0.29},{"c":15,"o":3,"x":-0.8,"z":0.267},{"c":15,"o":4,"x":-0.65,"z":0.246},{"c":15,"o":5,"x":-0.5,"z":0.234},{"c":15,"o":6,"x":-0.3,"z":0.228},{"c":15,"o":7,"x":0,"z":0.227},{"c":15,"o":8,"x":0.3,"z":0.228},{"c":15,"o":9,"x":0.5,"z":0.234},{"c":15,"o":10,"x":0.65,"z":0.246},{"c":15,"o":11,"x":0.8,"z":0.267},{"c":15,"o":12,"x":0.9,"z":0.29},{"c":15,"o":13,"x":1,"z":0.332},
{"c":16,"o":1,"x":-1,"z":0.286},{"c":16,"o":2,"x":-0.9,"z":0.255},{"c":16,"o":3,"x":-0.8,"z":0.238},{"c":16,"o":4,"x":-0.65,"z":0.222},{"c":16,"o":5,"x":-0.5,"z":0.213},{"c":16,"o":6,"x":-0.3,"z":0.208},{"c":16,"o":7,"x":0,"z":0.208},{"c":16,"o":8,"x":0.3,"z":0.208},{"c":16,"o":9,"x":0.5,"z":0.213},{"c":16,"o":10,"x":0.65,"z":0.222},{"c":16,"o":11,"x":0.8,"z":0.238},{"c":16,"o":12,"x":0.9,"z":0.255},{"c":16,"o":13,"x":1,"z":0.286},
{"c":17,"o":1,"x":-1,"z":0.239},{"c":17,"o":2,"x":-0.9,"z":0.219},{"c":17,"o":3,"x":-0.8,"z":0.209},{"c":17,"o":4,"x":-0.65,"z":0.199},{"c":17,"o":5,"x":-0.5,"z":0.193},{"c":17,"o":6,"x":-0.3,"z":0.19},{"c":17,"o":7,"x":0,"z":0.19},{"c":17,"o":8,"x":0.3,"z":0.19},{"c":17,"o":9,"x":0.5,"z":0.193},{"c":17,"o":10,"x":0.65,"z":0.199},{"c":17,"o":11,"x":0.8,"z":0.209},{"c":17,"o":12,"x":0.9,"z":0.219},{"c":17,"o":13,"x":1,"z":0.239},
{"c":18,"o":1,"x":-1,"z":0.2},{"c":18,"o":2,"x":-0.9,"z":0.189},{"c":18,"o":3,"x":-0.8,"z":0.183},{"c":18,"o":4,"x":-0.65,"z":0.177},{"c":18,"o":5,"x":-0.5,"z":0.174},{"c":18,"o":6,"x":-0.3,"z":0.172},{"c":18,"o":7,"x":0,"z":0.172},{"c":18,"o":8,"x":0.3,"z":0.172},{"c":18,"o":9,"x":0.5,"z":0.174},{"c":18,"o":10,"x":0.65,"z":0.177},{"c":18,"o":11,"x":0.8,"z":0.183},{"c":18,"o":12,"x":0.9,"z":0.189},{"c":18,"o":13,"x":1,"z":0.2},
{"c":19,"o":1,"x":-1,"z":0.162},{"c":19,"o":2,"x":-0.9,"z":0.159},{"c":19,"o":3,"x":-0.8,"z":0.158},{"c":19,"o":4,"x":-0.65,"z":0.156},{"c":19,"o":5,"x":-0.5,"z":0.155},{"c":19,"o":6,"x":-0.3,"z":0.155},{"c":19,"o":7,"x":0,"z":0.155},{"c":19,"o":8,"x":0.3,"z":0.155},{"c":19,"o":9,"x":0.5,"z":0.155},{"c":19,"o":10,"x":0.65,"z":0.156},{"c":19,"o":11,"x":0.8,"z":0.158},{"c":19,"o":12,"x":0.9,"z":0.159},{"c":19,"o":13,"x":1,"z":0.162},
{"c":20,"o":1,"x":-1,"z":0.13},{"c":20,"o":2,"x":-0.9,"z":0.134},{"c":20,"o":3,"x":-0.8,"z":0.136},{"c":20,"o":4,"x":-0.65,"z":0.138},{"c":20,"o":5,"x":-0.5,"z":0.139},{"c":20,"o":6,"x":-0.3,"z":0.14},{"c":20,"o":7,"x":0,"z":0.14},{"c":20,"o":8,"x":0.3,"z":0.14},{"c":20,"o":9,"x":0.5,"z":0.139},{"c":20,"o":10,"x":0.65,"z":0.138},{"c":20,"o":11,"x":0.8,"z":0.136},{"c":20,"o":12,"x":0.9,"z":0.134},{"c":20,"o":13,"x":1,"z":0.13},
{"c":21,"o":1,"x":-1,"z":0.112},{"c":21,"o":2,"x":-0.9,"z":0.118},{"c":21,"o":3,"x":-0.8,"z":0.121},{"c":21,"o":4,"x":-0.65,"z":0.1235},{"c":21,"o":5,"x":-0.5,"z":0.125},{"c":21,"o":6,"x":-0.3,"z":0.126},{"c":21,"o":7,"x":0,"z":0.126},{"c":21,"o":8,"x":0.3,"z":0.126},{"c":21,"o":9,"x":0.5,"z":0.125},{"c":21,"o":10,"x":0.65,"z":0.1235},{"c":21,"o":11,"x":0.8,"z":0.121},{"c":21,"o":12,"x":0.9,"z":0.118},{"c":21,"o":13,"x":1,"z":0.112},
{"c":22,"o":1,"x":-1,"z":0.096},{"c":22,"o":2,"x":-0.9,"z":0.103},{"c":22,"o":3,"x":-0.8,"z":0.1065},{"c":22,"o":4,"x":-0.65,"z":0.11},{"c":22,"o":5,"x":-0.5,"z":0.112},{"c":22,"o":6,"x":-0.3,"z":0.113},{"c":22,"o":7,"x":0,"z":0.113},{"c":22,"o":8,"x":0.3,"z":0.113},{"c":22,"o":9,"x":0.5,"z":0.112},{"c":22,"o":10,"x":0.65,"z":0.11},{"c":22,"o":11,"x":0.8,"z":0.1065},{"c":22,"o":12,"x":0.9,"z":0.103},{"c":22,"o":13,"x":1,"z":0.096},
{"c":23,"o":1,"x":-1,"z":0.082},{"c":23,"o":2,"x":-0.9,"z":0.0896},{"c":23,"o":3,"x":-0.8,"z":0.0938},{"c":23,"o":4,"x":-0.65,"z":0.0976},{"c":23,"o":5,"x":-0.5,"z":0.0997},{"c":23,"o":6,"x":-0.3,"z":0.101},{"c":23,"o":7,"x":0,"z":0.101},{"c":23,"o":8,"x":0.3,"z":0.101},{"c":23,"o":9,"x":0.5,"z":0.0997},{"c":23,"o":10,"x":0.65,"z":0.0976},{"c":23,"o":11,"x":0.8,"z":0.0938},{"c":23,"o":12,"x":0.9,"z":0.0896},{"c":23,"o":13,"x":1,"z":0.082},
{"c":24,"o":1,"x":-1,"z":0.07},{"c":24,"o":2,"x":-0.9,"z":0.078},{"c":24,"o":3,"x":-0.8,"z":0.0824},{"c":24,"o":4,"x":-0.65,"z":0.0864},{"c":24,"o":5,"x":-0.5,"z":0.0886},{"c":24,"o":6,"x":-0.3,"z":0.0898},{"c":24,"o":7,"x":0,"z":0.09},{"c":24,"o":8,"x":0.3,"z":0.0898},{"c":24,"o":9,"x":0.5,"z":0.0886},{"c":24,"o":10,"x":0.65,"z":0.0864},{"c":24,"o":11,"x":0.8,"z":0.0824},{"c":24,"o":12,"x":0.9,"z":0.078},{"c":24,"o":13,"x":1,"z":0.07},
{"c":25,"o":1,"x":-1,"z":0.059},{"c":25,"o":2,"x":-0.9,"z":0.0674},{"c":25,"o":3,"x":-0.8,"z":0.072},{"c":25,"o":4,"x":-0.65,"z":0.0762},{"c":25,"o":5,"x":-0.5,"z":0.0785},{"c":25,"o":6,"x":-0.3,"z":0.0798},{"c":25,"o":7,"x":0,"z":0.08},{"c":25,"o":8,"x":0.3,"z":0.0798},{"c":25,"o":9,"x":0.5,"z":0.0785},{"c":25,"o":10,"x":0.65,"z":0.0762},{"c":25,"o":11,"x":0.8,"z":0.072},{"c":25,"o":12,"x":0.9,"z":0.0674},{"c":25,"o":13,"x":1,"z":0.059},
{"c":26,"o":1,"x":-1,"z":0.05},{"c":26,"o":2,"x":-0.9,"z":0.058},{"c":26,"o":3,"x":-0.8,"z":0.0624},{"c":26,"o":4,"x":-0.65,"z":0.0664},{"c":26,"o":5,"x":-0.5,"z":0.0686},{"c":26,"o":6,"x":-0.3,"z":0.0698},{"c":26,"o":7,"x":0,"z":0.07},{"c":26,"o":8,"x":0.3,"z":0.0698},{"c":26,"o":9,"x":0.5,"z":0.0686},{"c":26,"o":10,"x":0.65,"z":0.0664},{"c":26,"o":11,"x":0.8,"z":0.0624},{"c":26,"o":12,"x":0.9,"z":0.058},{"c":26,"o":13,"x":1,"z":0.05},
{"c":27,"o":1,"x":-1,"z":0.042},{"c":27,"o":2,"x":-0.9,"z":0.0496},{"c":27,"o":3,"x":-0.8,"z":0.0538},{"c":27,"o":4,"x":-0.65,"z":0.0576},{"c":27,"o":5,"x":-0.5,"z":0.0597},{"c":27,"o":6,"x":-0.3,"z":0.0608},{"c":27,"o":7,"x":0,"z":0.061},{"c":27,"o":8,"x":0.3,"z":0.0608},{"c":27,"o":9,"x":0.5,"z":0.0597},{"c":27,"o":10,"x":0.65,"z":0.0576},{"c":27,"o":11,"x":0.8,"z":0.0538},{"c":27,"o":12,"x":0.9,"z":0.0496},{"c":27,"o":13,"x":1,"z":0.042},
{"c":28,"o":1,"x":-1,"z":0.035},{"c":28,"o":2,"x":-0.9,"z":0.0422},{"c":28,"o":3,"x":-0.8,"z":0.0462},{"c":28,"o":4,"x":-0.65,"z":0.0498},{"c":28,"o":5,"x":-0.5,"z":0.0517},{"c":28,"o":6,"x":-0.3,"z":0.0528},{"c":28,"o":7,"x":0,"z":0.053},{"c":28,"o":8,"x":0.3,"z":0.0528},{"c":28,"o":9,"x":0.5,"z":0.0517},{"c":28,"o":10,"x":0.65,"z":0.0498},{"c":28,"o":11,"x":0.8,"z":0.0462},{"c":28,"o":12,"x":0.9,"z":0.0422},{"c":28,"o":13,"x":1,"z":0.035},
{"c":29,"o":1,"x":-1,"z":0.029},{"c":29,"o":2,"x":-0.9,"z":0.0358},{"c":29,"o":3,"x":-0.8,"z":0.0395},{"c":29,"o":4,"x":-0.65,"z":0.0429},{"c":29,"o":5,"x":-0.5,"z":0.0448},{"c":29,"o":6,"x":-0.3,"z":0.0458},{"c":29,"o":7,"x":0,"z":0.046},{"c":29,"o":8,"x":0.3,"z":0.0458},{"c":29,"o":9,"x":0.5,"z":0.0448},{"c":29,"o":10,"x":0.65,"z":0.0429},{"c":29,"o":11,"x":0.8,"z":0.0395},{"c":29,"o":12,"x":0.9,"z":0.0358},{"c":29,"o":13,"x":1,"z":0.029},
{"c":30,"o":1,"x":-1,"z":0.024},{"c":30,"o":2,"x":-0.9,"z":0.0304},{"c":30,"o":3,"x":-0.8,"z":0.0339},{"c":30,"o":4,"x":-0.65,"z":0.0371},{"c":30,"o":5,"x":-0.5,"z":0.0389},{"c":30,"o":6,"x":-0.3,"z":0.0398},{"c":30,"o":7,"x":0,"z":0.04},{"c":30,"o":8,"x":0.3,"z":0.0398},{"c":30,"o":9,"x":0.5,"z":0.0389},{"c":30,"o":10,"x":0.65,"z":0.0371},{"c":30,"o":11,"x":0.8,"z":0.0339},{"c":30,"o":12,"x":0.9,"z":0.0304},{"c":30,"o":13,"x":1,"z":0.024},
{"c":31,"o":1,"x":-0.967,"z":0.021},{"c":31,"o":2,"x":-0.9,"z":0.025},{"c":31,"o":3,"x":-0.8,"z":0.0283},{"c":31,"o":4,"x":-0.65,"z":0.0313},{"c":31,"o":5,"x":-0.5,"z":0.033},{"c":31,"o":6,"x":-0.3,"z":0.0339},{"c":31,"o":7,"x":0,"z":0.034},{"c":31,"o":8,"x":0.3,"z":0.0339},{"c":31,"o":9,"x":0.5,"z":0.033},{"c":31,"o":10,"x":0.65,"z":0.0313},{"c":31,"o":11,"x":0.8,"z":0.0283},{"c":31,"o":12,"x":0.9,"z":0.025},{"c":31,"o":13,"x":0.967,"z":0.021},
{"c":32,"o":2,"x":-0.855,"z":0.021},{"c":32,"o":3,"x":-0.8,"z":0.0227},{"c":32,"o":4,"x":-0.65,"z":0.0255},{"c":32,"o":5,"x":-0.5,"z":0.027},{"c":32,"o":6,"x":-0.3,"z":0.0279},{"c":32,"o":7,"x":0,"z":0.028},{"c":32,"o":8,"x":0.3,"z":0.0279},{"c":32,"o":9,"x":0.5,"z":0.027},{"c":32,"o":10,"x":0.65,"z":0.0255},{"c":32,"o":11,"x":0.8,"z":0.0227},{"c":32,"o":12,"x":0.855,"z":0.021},
{"c":33,"o":4,"x":-0.618,"z":0.021},{"c":33,"o":5,"x":-0.5,"z":0.0221},{"c":33,"o":6,"x":-0.3,"z":0.0229},{"c":33,"o":7,"x":0,"z":0.023},{"c":33,"o":8,"x":0.3,"z":0.0229},{"c":33,"o":9,"x":0.5,"z":0.0221},{"c":33,"o":10,"x":0.618,"z":0.021}
]
},
"layer":[
{"data":{"name":"A"},
"mark":{"type":"line","interpolate":"catmull-rom","color":"#8c8c8c","strokeWidth":0.8},
"encoding":{
"x":{"field":"x","type":"quantitative","scale":{"domain":[-1,1],"nice":false,"zero":false,"range":[47.5,634.5]},"axis":{"orient":"bottom","offset":-294,"values":[-1,-0.8,-0.6,-0.4,-0.2,0,0.2,0.4,0.6,0.8,1],"labelExpr":"replace(replace(format(datum.value,'~g'),'.',','),'−','-')","labelPadding":6,"title":"Ancho de contacto adimensionalizado x/a","titleFontSize":13.4,"titlePadding":3}},
"y":{"field":"z","type":"quantitative","scale":{"domain":[0.021,0.979],"nice":false,"zero":false,"range":[51,253]},"axis":{"orient":"left","offset":-47.5,"values":[0.1,0.2,0.3,0.4,0.5,0.6,0.7,0.8,0.9],"labelExpr":"replace(format(datum.value,'~g'),'.',',')","labelFontSize":9,"labelPadding":9.5,"title":"Espesor adimensionalizado z/a","titlePadding":8}},
"detail":{"field":"c","type":"nominal"},
"order":{"field":"o","type":"quantitative"}
}},
{"data":{"values":[{"x":0,"z":0.5}]},
"mark":{"type":"point","opacity":0},
"encoding":{
"x":{"field":"x","type":"quantitative","scale":{"domain":[-1,1],"nice":false,"zero":false,"range":[47.5,634.5]},"axis":{"orient":"top","offset":-51,"values":[-1,-0.8,-0.6,-0.4,-0.2,0,0.2,0.4,0.6,0.8,1],"labels":false,"title":"Líneas de contorno. Mapa tensional","titleFontSize":13.2,"titlePadding":5}},
"y":{"field":"z","type":"quantitative","scale":{"domain":[0.021,0.979],"nice":false,"zero":false,"range":[51,253]},"axis":{"orient":"right","offset":-7.5,"values":[0.1,0.2,0.3,0.4,0.5,0.6,0.7,0.8,0.9],"labels":false,"title":null}}
}},
{"data":{"name":"B"},
"mark":{"type":"line","interpolate":"catmull-rom","color":"#8c8c8c","strokeWidth":0.8},
"encoding":{
"x":{"field":"x","type":"quantitative","scale":{"domain":[-1,1],"nice":false,"zero":false,"range":[47.5,634.5]},"axis":{"orient":"bottom","offset":-36,"values":[-1,-0.8,-0.6,-0.4,-0.2,0,0.2,0.4,0.6,0.8,1],"labelExpr":"replace(replace(format(datum.value,'~g'),'.',','),'−','-')","labelPadding":6,"title":"Ancho de contacto adimensionalizado x/a","titleFontSize":13.4,"titlePadding":6}},
"y":{"field":"z","type":"quantitative","scale":{"domain":[0.021,0.979],"nice":false,"zero":false,"range":[304,511]},"axis":{"orient":"left","offset":-47.5,"values":[0.1,0.2,0.3,0.4,0.5,0.6,0.7,0.8,0.9],"labelExpr":"replace(format(datum.value,'~g'),'.',',')","labelFontSize":9,"labelPadding":9.5,"title":"Espesor adimensionalizado z/a","titlePadding":8}},
"detail":{"field":"c","type":"nominal"},
"order":{"field":"o","type":"quantitative"}
}},
{"data":{"values":[{"x":0,"z":0.5}]},
"mark":{"type":"point","opacity":0},
"encoding":{
"x":{"field":"x","type":"quantitative","scale":{"domain":[-1,1],"nice":false,"zero":false,"range":[47.5,634.5]},"axis":{"orient":"top","offset":-304,"values":[-1,-0.8,-0.6,-0.4,-0.2,0,0.2,0.4,0.6,0.8,1],"labels":false,"title":"Líneas de contorno. Mapa tensional","titleFontSize":13.2,"titlePadding":3}},
"y":{"field":"z","type":"quantitative","scale":{"domain":[0.021,0.979],"nice":false,"zero":false,"range":[304,511]},"axis":{"orient":"right","offset":-7.5,"values":[0.1,0.2,0.3,0.4,0.5,0.6,0.7,0.8,0.9],"labels":false,"title":null}}
}}
],
"resolve":{"scale":{"x":"independent","y":"independent"},"axis":{"x":"independent","y":"independent"}}
}
